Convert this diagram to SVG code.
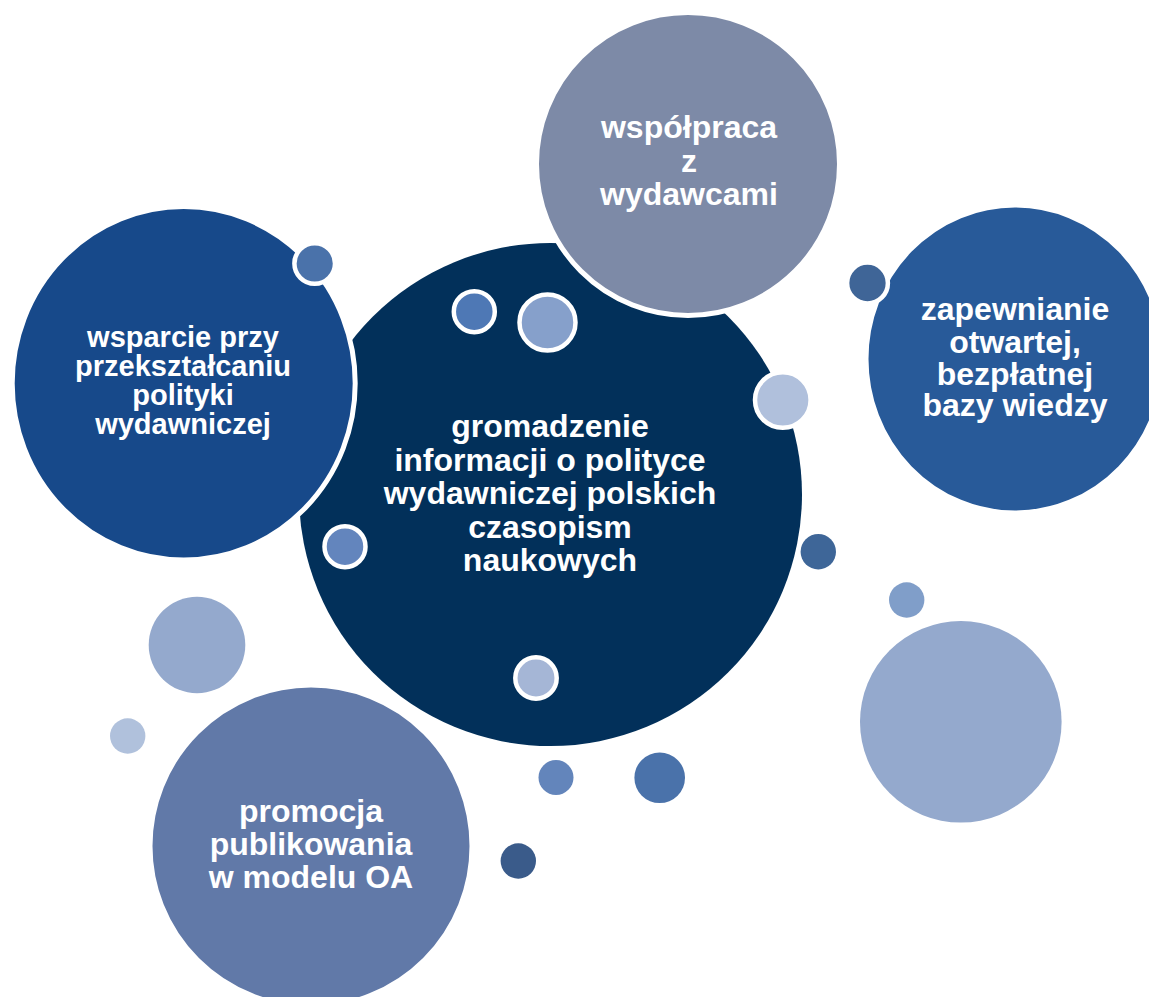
<svg xmlns="http://www.w3.org/2000/svg" width="1149" height="997" viewBox="0 0 1149 997">
<style>
.big{stroke:#fff;stroke-width:5}
.dot{stroke:#fff;stroke-width:4.5}
.t{font-family:"Liberation Sans",Arial,sans-serif;font-weight:bold;fill:#fff;text-anchor:middle}
.t32{font-size:32px}
.t29{font-size:29px}
</style>
<rect width="1149" height="997" fill="#fff"/>
<g id="center-node">
<circle cx="550.5" cy="494.5" r="251.5" fill="#02305A"/>
<text class="t t32" x="550" y="437">gromadzenie</text>
<text class="t t32" x="550" y="471">informacji o polityce</text>
<text class="t t32" x="550" y="504">wydawniczej polskich</text>
<text class="t t32" x="550" y="538">czasopism</text>
<text class="t t32" x="550" y="571">naukowych</text>
</g>
<g id="node-wspolpraca">
<circle class="big" cx="688" cy="164" r="151.5" fill="#7D8AA7"/>
<text class="t t32" x="689" y="138">współpraca</text>
<text class="t t32" x="689" y="172">z</text>
<text class="t t32" x="689" y="205">wydawcami</text>
</g>
<g id="node-wsparcie">
<ellipse class="big" cx="183.7" cy="383.3" rx="171.5" ry="176.7" fill="#17498A"/>
<text class="t t29" x="183" y="347">wsparcie przy</text>
<text class="t t29" x="183" y="376">przekształcaniu</text>
<text class="t t29" x="183" y="405">polityki</text>
<text class="t t29" x="183" y="434">wydawniczej</text>
</g>
<g id="node-zapewnianie">
<ellipse class="big" cx="1015" cy="359" rx="149" ry="154" fill="#285A99"/>
<text class="t t32" x="1015" y="320">zapewnianie</text>
<text class="t t32" x="1015" y="353">otwartej,</text>
<text class="t t32" x="1015" y="385">bezpłatnej</text>
<text class="t t32" x="1015" y="416">bazy wiedzy</text>
</g>
<g id="node-promocja">
<circle class="big" cx="311" cy="846" r="161" fill="#6179A8"/>
<text class="t t32" x="311" y="822">promocja</text>
<text class="t t32" x="311" y="855">publikowania</text>
<text class="t t32" x="311" y="888">w modelu OA</text>
</g>
<g id="decor">
<circle class="dot" cx="314.7" cy="263.5" r="20.3" fill="#4A72AA"/>
<circle class="dot" cx="474.3" cy="311.7" r="20.5" fill="#4E78B5"/>
<circle class="dot" cx="547.5" cy="322.5" r="28" fill="#86A0CB"/>
<circle class="dot" cx="782.8" cy="400" r="27.8" fill="#B0C0DC"/>
<circle class="dot" cx="867.5" cy="283" r="20.4" fill="#3F6597"/>
<circle class="dot" cx="345" cy="546.7" r="20.5" fill="#6385BD"/>
<circle class="dot" cx="536" cy="678" r="20.7" fill="#A5B6D6"/>
<circle cx="818.3" cy="551.7" r="17.7" fill="#3E6698"/>
<circle cx="906.7" cy="600" r="17.7" fill="#809EC9"/>
<circle cx="960.8" cy="721.8" r="100.8" fill="#94A9CD"/>
<circle cx="197" cy="645" r="48.3" fill="#94A9CD"/>
<circle cx="127.7" cy="736" r="17.7" fill="#B0C1DC"/>
<circle cx="556" cy="777.5" r="17.5" fill="#6385BB"/>
<circle cx="659.7" cy="777.8" r="25.3" fill="#4A72AA"/>
<circle cx="518.3" cy="861" r="17.7" fill="#3A5B8A"/>
</g>
<g id="connectors"/>
</svg>
